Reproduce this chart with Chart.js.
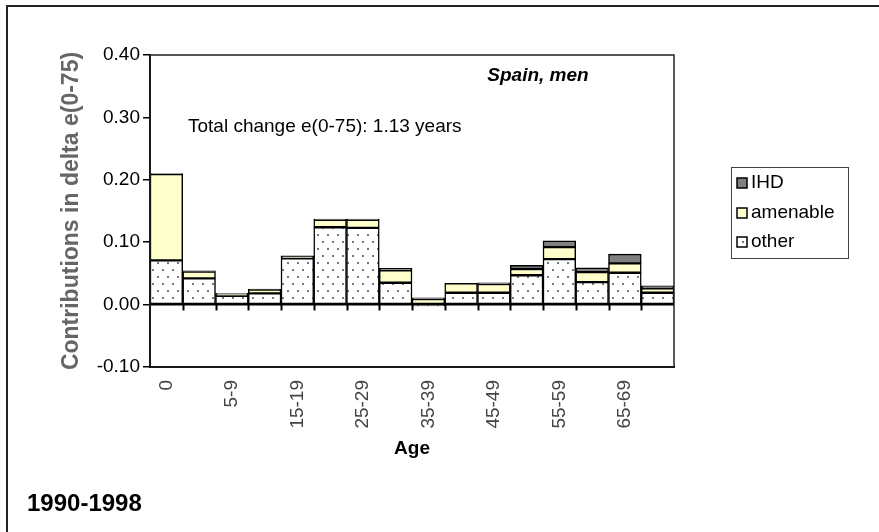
<!DOCTYPE html>
<html lang="en">
<head>
<meta charset="UTF-8">
<title>Spain, men — 1990-1998</title>
<script src="https://cdn.jsdelivr.net/npm/chart.js"></script>
<style>
  html, body { margin: 0; padding: 0; background: #fff; }
  #wrap { width: 879px; height: 532px; position: relative; }
</style>
</head>
<body>
<div id="wrap"><canvas id="chart"></canvas></div>
<script>
// age groups and contributions (years)
const ages = ['0', '1-4', '5-9', '10-14', '15-19', '20-24', '25-29', '30-34',
              '35-39', '40-44', '45-49', '50-54', '55-59', '60-64', '65-69', '70-74'];
const other    = [0.071, 0.042, 0.014, 0.018, 0.074, 0.124, 0.123, 0.035,
                  -0.002, 0.019, 0.019, 0.047, 0.073, 0.036, 0.051, 0.019];
const amenable = [0.138, 0.011, 0.003, 0.006, 0.003, 0.012, 0.013, 0.020,
                  0.009, 0.015, 0.014, 0.010, 0.019, 0.016, 0.015, 0.007];
const ihd      = [0.001, 0.001, 0.001, 0.001, 0.001, 0.001, 0.001, 0.003,
                  0.002, 0.000, 0.002, 0.006, 0.010, 0.007, 0.015, 0.004];
const yTicks = [-0.10, 0.00, 0.10, 0.20, 0.30, 0.40];

const FONT = 'Arial, "Liberation Sans", sans-serif';

// dotted fill for "other"
function dots() {
  const c = document.createElement('canvas');
  c.width = 10; c.height = 14;
  const g = c.getContext('2d');
  g.fillStyle = '#fff';
  g.fillRect(0, 0, 10, 14);
  g.fillStyle = '#7a7a7a';
  g.fillRect(2, 3, 2, 2);
  g.fillRect(7, 10, 2, 2);
  return g.createPattern(c, 'repeat');
}
const dotFill = dots();

const decor = {
  id: 'decor',
  beforeDraw(chart) {
    const ctx = chart.ctx;
    ctx.save();
    ctx.fillStyle = '#fff';
    ctx.fillRect(0, 0, chart.width, chart.height);
    ctx.restore();
  },
  afterDatasetsDraw(chart) {
    const { ctx, chartArea: a, scales: { x, y } } = chart;
    const y0 = y.getPixelForValue(0);
    const step = x.getPixelForValue(1) - x.getPixelForValue(0);
    ctx.save();
    ctx.strokeStyle = '#000';
    ctx.lineWidth = 2;
    ctx.beginPath();
    ctx.moveTo(a.left, y0); ctx.lineTo(a.right, y0);
    for (let i = 1; i < ages.length; i++) {
      const xb = Math.round(x.getPixelForValue(i) - step / 2) + 0.5;
      ctx.moveTo(xb, y0); ctx.lineTo(xb, y0 + 6);
    }
    ctx.stroke();
    ctx.lineWidth = 1.5;
    ctx.strokeStyle = '#222';
    ctx.strokeRect(a.left, a.top, a.width, a.height);

    // texts inside the plot
    ctx.fillStyle = '#000';
    ctx.textBaseline = 'middle';
    ctx.textAlign = 'center';
    ctx.font = 'italic bold 19px ' + FONT;
    ctx.fillText('Spain, men', 538, 76);
    ctx.textAlign = 'left';
    ctx.font = '19px ' + FONT;
    ctx.fillText('Total change e(0-75): 1.13 years', 188, 127);

    // legend
    ctx.lineWidth = 1;
    ctx.strokeStyle = '#444';
    ctx.strokeRect(731.5, 167.5, 117, 91);
    const items = [['IHD', '#808080', 183], ['amenable', '#ffffcc', 213], ['other', dotFill, 242]];
    items.forEach(([t, fill, ym]) => {
      ctx.fillStyle = fill;
      ctx.fillRect(737, ym - 5, 10, 10);
      ctx.strokeStyle = '#000';
      ctx.lineWidth = 1.5;
      ctx.strokeRect(737, ym - 5, 10, 10);
      ctx.fillStyle = '#000';
      ctx.fillText(t, 751, ym);
    });

    // period label and outer frame
    ctx.font = 'bold 24px ' + FONT;
    ctx.fillText('1990-1998', 27, 504);
    ctx.strokeStyle = '#222';
    ctx.lineWidth = 2;
    ctx.beginPath();
    ctx.moveTo(7, chart.height); ctx.lineTo(7, 6); ctx.lineTo(chart.width, 6);
    ctx.stroke();
    ctx.restore();
  }
};

new Chart(document.getElementById('chart'), {
  type: 'bar',
  data: {
    labels: ages,
    datasets: [
      { label: 'other', data: other, backgroundColor: dotFill },
      { label: 'amenable', data: amenable, backgroundColor: '#ffffcc' },
      { label: 'IHD', data: ihd, backgroundColor: '#808080' }
    ].map(d => Object.assign(d, {
      borderColor: '#000', borderWidth: 1.5, borderSkipped: false,
      barPercentage: 1, categoryPercentage: 1
    }))
  },
  options: {
    responsive: true,
    maintainAspectRatio: false,
    animation: false,
    layout: { padding: { top: 55, right: 205, bottom: 70, left: 0 } },
    plugins: { legend: { display: false }, tooltip: { enabled: false } },
    scales: {
      x: {
        stacked: true,
        grid: { display: false, drawTicks: false },
        border: { display: true, color: '#000', width: 2 },
        ticks: {
          autoSkip: false, minRotation: 90, maxRotation: 90, padding: 13,
          color: '#444', font: { family: FONT, size: 19 },
          callback: (v, i) => (i % 2 ? '' : ages[i])
        },
        title: {
          display: true, text: 'Age', color: '#000',
          font: { family: FONT, size: 19, weight: 'bold' }, padding: { top: 0, bottom: 2 }
        },
        afterFit: s => { s.height = 95; }
      },
      y: {
        stacked: true,
        min: yTicks[0], max: yTicks[yTicks.length - 1],
        afterBuildTicks: s => { s.ticks = yTicks.map(v => ({ value: v })); },
        grid: { drawOnChartArea: false, tickLength: 7, color: '#000', lineWidth: 1.5 },
        border: { display: true, color: '#000', width: 2 },
        ticks: {
          color: '#000', padding: 3, font: { family: FONT, size: 19 },
          callback: v => v.toFixed(2)
        },
        title: {
          display: true, text: 'Contributions in delta e(0-75)', color: '#666',
          font: { family: FONT, size: 23, weight: 'bold' }, padding: { top: 58, bottom: 0 }
        },
        afterFit: s => { s.width = 150; }
      }
    }
  },
  plugins: [decor]
});
</script>
</body>
</html>
